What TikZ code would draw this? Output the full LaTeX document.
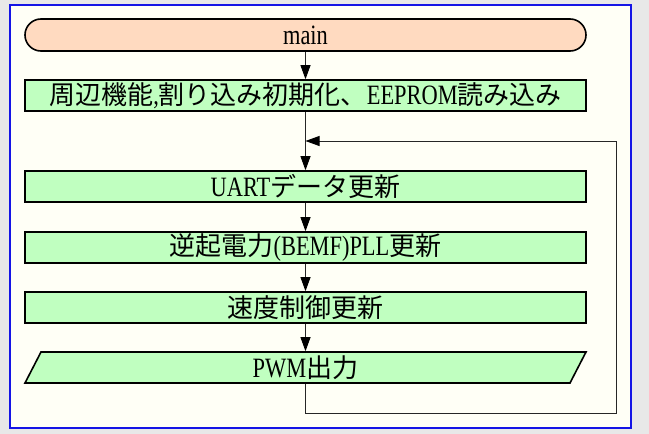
\documentclass[tikz,border=0pt]{standalone}
\usepackage{fontspec}
\setmainfont{Liberation Serif}[FakeStretch=0.8]
\newfontfamily\jp{Noto Sans CJK JP}
\newcommand\jt[1]{{\jp\fontsize{26}{30}\selectfont #1}}
\usetikzlibrary{arrows.meta}
\definecolor{bggray}{RGB}{232,232,232}
\definecolor{paper}{RGB}{255,255,246}
\definecolor{framblue}{RGB}{20,20,230}
\definecolor{peach}{RGB}{255,218,192}
\definecolor{mint}{RGB}{192,255,192}
\tikzset{
  procbox/.style={draw=black, line width=1.6pt, fill=mint, minimum width=561pt, minimum height=31pt, inner sep=0pt, font=\fontsize{28}{32}\selectfont},
  termbox/.style={draw=black, line width=1.6pt, fill=peach, rounded corners=16pt, minimum width=561pt, minimum height=32pt, inner sep=0pt, font=\fontsize{28}{32}\selectfont},
  flow/.style={draw=black!85, line width=0.8pt},
  arr/.style={flow, -{Triangle[length=14pt,width=10pt,color=black]}},
}
\begin{document}
\begin{tikzpicture}[x=1pt,y=-1pt]
\fill[bggray] (0,0) rectangle (649,434);
\useasboundingbox (0,0) rectangle (649,434);
\draw[framblue, line width=1.8pt, fill=paper] (10,5) rectangle (631,428);

\node[termbox] (main) at (305.5,35) {main};
\node[procbox] (init) at (305.5,95.5) {\jt{周辺機能},\jt{割り込み初期化、}EEPROM\jt{読み込み}};
\node[procbox] (uart) at (305.5,186.5) {UART\jt{データ更新}};
\node[procbox] (bemf) at (305.5,247.5) {\jt{逆起電力}(BEMF)PLL\jt{更新}};
\node[procbox] (speed) at (305.5,307.5) {\jt{速度制御更新}};
\draw[line width=1.6pt, fill=mint] (25,383) -- (41,352) -- (586,352) -- (570,383) -- cycle;
\node[procbox, draw=none, fill=none] (pwm) at (305.5,367.5) {PWM\jt{出力}};

\coordinate (merge) at (305.5,141);
\coordinate (lowright) at (616,413);
\coordinate (upright) at (616,141);

\draw[arr] (main) -- (init);
\draw[arr] (init) -- (uart);
\draw[arr] (uart) -- (bemf);
\draw[arr] (bemf) -- (speed);
\draw[arr] (speed) -- (pwm);
\draw[arr] (pwm.south) |- (lowright) -- (upright) -- (merge);
\end{tikzpicture}
\end{document}
